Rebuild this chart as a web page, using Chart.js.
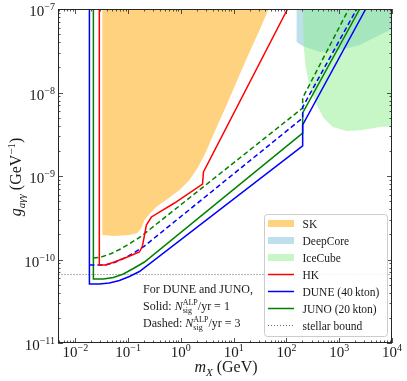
<!DOCTYPE html>
<html>
<head>
<meta charset="utf-8">
<script src="https://cdn.jsdelivr.net/npm/chart.js@4.4.1/dist/chart.umd.min.js"></script>
<style>
  html, body { margin: 0; padding: 0; background: #fff; }
  canvas { display: block; }
</style>
</head>
<body>
<canvas id="alpChart" width="407" height="381"></canvas>
<script>
// axis ranges and decade tick labels (exponents of 10)
const xMin = 4.7e-3, xMax = 1e4;
const yMin = 1e-11, yMax = 1e-7;
const xTickExp = [-2, -1, 0, 1, 2, 3, 4];
const yTickExp = [-11, -10, -9, -8, -7];

// SK excluded region (outline, mass in GeV / coupling in GeV^-1)
const skMass = [0.0325, 0.0325, 0.055, 0.106, 0.150, 0.179, 0.204, 0.254, 0.36, 0.557, 0.94, 1.46, 2.07, 2.8, 4.34, 7.66, 12.9, 20, 31, 45.9];
const skG = [1e-7, 1.97e-10, 1.91e-10, 1.97e-10, 2.08e-10, 2.38e-10, 2.97e-10, 3.51e-10, 4.37e-10, 5.3e-10, 6.8e-10, 8.96e-10, 1.25e-9, 1.78e-9, 3.37e-9, 7.49e-9, 1.62e-8, 3.06e-8, 5.6e-8, 1e-7];

// DeepCore region
const deepCoreMass = [156, 156, 203, 427, 1021, 2448, 5866, 11000, 11000];
const deepCoreG = [1e-7, 4.03e-8, 3.6e-8, 3.06e-8, 3.23e-8, 3.71e-8, 4.88e-8, 5.92e-8, 1e-7];

// IceCube region
const iceCubeMass = [203, 212, 231, 275, 374, 508, 753, 1387, 2792, 5866, 11000, 11000];
const iceCubeG = [1e-7, 3.71e-8, 2.02e-8, 1.16e-8, 7.08e-9, 4.95e-9, 3.86e-9, 3.46e-9, 3.56e-9, 3.86e-9, 3.97e-9, 1e-7];

// HK sensitivity
const hkMass = [0.0285, 0.0285, 0.037, 0.055, 0.097, 0.164, 0.187, 0.222, 0.277, 0.757, 2.57, 2.68, 105];
const hkG = [1e-7, 8.59e-11, 8.59e-11, 9.33e-11, 1.07e-10, 1.23e-10, 1.45e-10, 2.59e-10, 3.23e-10, 4.75e-10, 8.02e-10, 1.12e-9, 1e-7];

// DUNE, N_sig = 1 (solid) and 3 (dashed)
const duneMass = [0.0185, 0.0185, 0.0285, 0.0442, 0.0684, 0.106, 0.164, 203, 203, 3184];
const duneG = [1e-7, 5.09e-11, 5.09e-11, 5.23e-11, 5.61e-11, 6.25e-11, 7.18e-11, 2.29e-9, 4.08e-9, 1e-7];
const duneDashMass = [0.0185, 0.037, 0.055, 0.0851, 0.132, 0.204, 203, 203, 2148];
const duneDashG = [8.59e-11, 8.59e-11, 9.2e-11, 1.04e-10, 1.21e-10, 1.45e-10, 4.95e-9, 6.7e-9, 1e-7];

// JUNO, N_sig = 1 (solid) and 3 (dashed)
const junoMass = [0.022, 0.022, 0.034, 0.0526, 0.0815, 0.126, 0.204, 203, 203, 2448];
const junoG = [1e-7, 5.84e-11, 5.84e-11, 6.09e-11, 6.70e-11, 7.80e-11, 9.33e-11, 3.27e-9, 5.68e-9, 1e-7];
const junoDashMass = [0.022, 0.0311, 0.0482, 0.0746, 0.116, 0.179, 203, 203, 1514];
const junoDashG = [1.04e-10, 1.07e-10, 1.18e-10, 1.35e-10, 1.60e-10, 1.91e-10, 6.52e-9, 8.6e-9, 1e-7];

// stellar bound
const stellarMass = [1e-3, 1e5];
const stellarG = [6.6e-11, 6.6e-11];

const SERIF = "'Liberation Serif', 'DejaVu Serif', serif";
const INK = '#1a1a1a';

const pts = (ms, gs) => ms.map((m, i) => ({ x: m, y: gs[i] }));

// higher order = drawn further below
function region(label, ms, gs, color, order) {
    return {
        label: label, data: pts(ms, gs), showLine: true, fill: 'shape',
        backgroundColor: color, borderColor: 'rgba(0,0,0,0)', borderWidth: 0,
        order: order, kind: 'patch'
    };
}

function curve(label, ms, gs, color, dash, kind) {
    return {
        label: label, data: pts(ms, gs), showLine: true, fill: false,
        borderColor: color, borderWidth: dash && dash[0] === 1 ? 1 : 1.5, borderDash: dash || [],
        order: 1, kind: kind
    };
}

const datasets = [
    region('SK', skMass, skG, 'rgba(255,165,0,0.5)', 6),
    region('DeepCore', deepCoreMass, deepCoreG, 'rgba(173,216,230,0.8)', 5),
    region('IceCube', iceCubeMass, iceCubeG, 'rgba(144,238,144,0.5)', 4),
    curve('HK', hkMass, hkG, '#ff0000', null, 'line'),
    curve('DUNE (40\u2009kton)', duneMass, duneG, '#0000ff', null, 'line'),
    curve('DUNE dashed', duneDashMass, duneDashG, '#0000ff', [5, 3], null),
    curve('JUNO (20\u2009kton)', junoMass, junoG, '#008000', null, 'line'),
    curve('JUNO dashed', junoDashMass, junoDashG, '#008000', [5, 3], null),
    curve('stellar bound', stellarMass, stellarG, '#666666', [1, 2], 'line')
];

function fontOf(size, italic) {
    return (italic ? 'italic ' : '') + size + 'px ' + SERIF;
}

// draws a run of text pieces with sub/superscripts
function drawRich(ctx, segs, x, y, align) {
    const widthOf = s => {
        if (s.sup !== undefined) {
            ctx.font = fontOf(s.size, false);
            return Math.max(ctx.measureText(s.sup).width, ctx.measureText(s.sub).width);
        }
        ctx.font = fontOf(s.size, s.it);
        return ctx.measureText(s.t).width;
    };
    const total = segs.reduce((w, s) => w + widthOf(s), 0);
    let cx = align === 'center' ? x - total / 2 : align === 'right' ? x - total : x;
    ctx.textAlign = 'left';
    ctx.textBaseline = 'alphabetic';
    segs.forEach(s => {
        const w = widthOf(s);
        if (s.sup !== undefined) {
            ctx.fillText(s.sup, cx, y - 5);
            ctx.fillText(s.sub, cx, y + 3);
        } else {
            ctx.fillText(s.t, cx, y + (s.dy || 0));
        }
        cx += w;
    });
}

const expText = e => (e < 0 ? '\u2212' + (-e) : String(e));

const decor = {
    id: 'decor',
    afterDraw(chart) {
        const { ctx, chartArea: a, scales: { x, y } } = chart;
        ctx.save();
        ctx.fillStyle = INK;
        ctx.strokeStyle = '#262626';

        // frame
        ctx.lineWidth = 1;
        ctx.strokeRect(a.left + 0.5, a.top + 0.5, a.right - a.left - 1, a.bottom - a.top - 1);

        // inward ticks on all sides
        ctx.lineWidth = 0.8;
        ctx.beginPath();
        for (let e = -3; e <= 4; e++) {
            for (let k = 1; k <= 9; k++) {
                const v = k * Math.pow(10, e);
                if (v < xMin || v > xMax) continue;
                const px = Math.round(x.getPixelForValue(v)) + 0.5;
                const len = k === 1 ? 5 : 2.5;
                ctx.moveTo(px, a.bottom); ctx.lineTo(px, a.bottom - len);
                ctx.moveTo(px, a.top); ctx.lineTo(px, a.top + len);
            }
        }
        for (let e = -11; e <= -7; e++) {
            for (let k = 1; k <= 9; k++) {
                const v = k * Math.pow(10, e);
                if (v < yMin * 0.999 || v > yMax * 1.001) continue;
                const py = Math.round(y.getPixelForValue(v)) + 0.5;
                const len = k === 1 ? 5 : 2.5;
                ctx.moveTo(a.left, py); ctx.lineTo(a.left + len, py);
                ctx.moveTo(a.right, py); ctx.lineTo(a.right - len, py);
            }
        }
        ctx.stroke();

        // tick labels
        xTickExp.forEach(e => {
            const px = x.getPixelForValue(Math.pow(10, e));
            drawRich(ctx, [{ t: '10', size: 15 }, { t: expText(e), size: 10, dy: -6 }], px, 357, 'center');
        });
        yTickExp.forEach(e => {
            const py = y.getPixelForValue(Math.pow(10, e));
            drawRich(ctx, [{ t: '10', size: 15 }, { t: expText(e), size: 10, dy: -6 }], 55, py + 7, 'right');
        });

        // axis titles
        drawRich(ctx, [{ t: 'm', size: 16, it: true }, { t: 'X', size: 11, it: true, dy: 3.5 }, { t: ' (GeV)', size: 16 }], 226, 372, 'center');
        ctx.save();
        ctx.translate(21, 177);
        ctx.rotate(-Math.PI / 2);
        drawRich(ctx, [{ t: 'g', size: 16, it: true }, { t: 'a\u03b3\u03b3', size: 11, it: true, dy: 3.5 },
            { t: ' (GeV', size: 16 }, { t: '\u22121', size: 11, dy: -6 }, { t: ')', size: 16 }], 0, 0, 'center');
        ctx.restore();

        // note on line styles
        drawRich(ctx, [{ t: 'For DUNE and JUNO,', size: 12 }], 143, 293, 'left');
        drawRich(ctx, [{ t: 'Solid: ', size: 12 }, { t: 'N', size: 12, it: true }, { sup: 'ALP', sub: 'sig', size: 8 },
            { t: '/yr = 1', size: 12 }], 143, 309.5, 'left');
        drawRich(ctx, [{ t: 'Dashed: ', size: 12 }, { t: 'N', size: 12, it: true }, { sup: 'ALP', sub: 'sig', size: 8 },
            { t: '/yr = 3', size: 12 }], 143, 327, 'left');

        // legend
        const items = chart.data.datasets.filter(d => d.kind);
        const bx = 264, by = 214, bw = 123, bh = 122;
        ctx.beginPath();
        ctx.roundRect(bx + 0.5, by + 0.5, bw, bh, 3);
        ctx.fillStyle = 'rgba(255,255,255,0.9)';
        ctx.fill();
        ctx.strokeStyle = '#cccccc';
        ctx.lineWidth = 1;
        ctx.stroke();
        items.forEach((d, i) => {
            const cy = 223.5 + 17 * i;
            if (d.kind === 'patch') {
                ctx.fillStyle = d.backgroundColor;
                ctx.fillRect(268, cy - 3.5, 26, 7);
            } else {
                ctx.strokeStyle = d.borderColor;
                ctx.lineWidth = d.borderWidth;
                ctx.setLineDash(d.borderDash);
                ctx.beginPath();
                ctx.moveTo(268, cy); ctx.lineTo(294, cy);
                ctx.stroke();
                ctx.setLineDash([]);
            }
            ctx.fillStyle = INK;
            drawRich(ctx, [{ t: d.label, size: 11.5 }], 302.5, cy + 4, 'left');
        });
        ctx.restore();
    }
};

new Chart(document.getElementById('alpChart'), {
    type: 'scatter',
    data: { datasets: datasets },
    options: {
        responsive: false,
        animation: false,
        layout: { padding: { top: 9, right: 15, left: 0, bottom: 0 } },
        elements: { point: { radius: 0, hoverRadius: 0 }, line: { tension: 0 } },
        plugins: { legend: { display: false }, tooltip: { enabled: false } },
        scales: {
            x: {
                type: 'logarithmic', min: xMin, max: xMax,
                grid: { display: false, drawTicks: false },
                border: { display: false },
                ticks: { display: false },
                afterFit: s => { s.height = 38; }
            },
            y: {
                type: 'logarithmic', min: yMin, max: yMax,
                grid: { display: false, drawTicks: false },
                border: { display: false },
                ticks: { display: false },
                afterFit: s => { s.width = 58; }
            }
        }
    },
    plugins: [decor]
});
</script>
</body>
</html>
